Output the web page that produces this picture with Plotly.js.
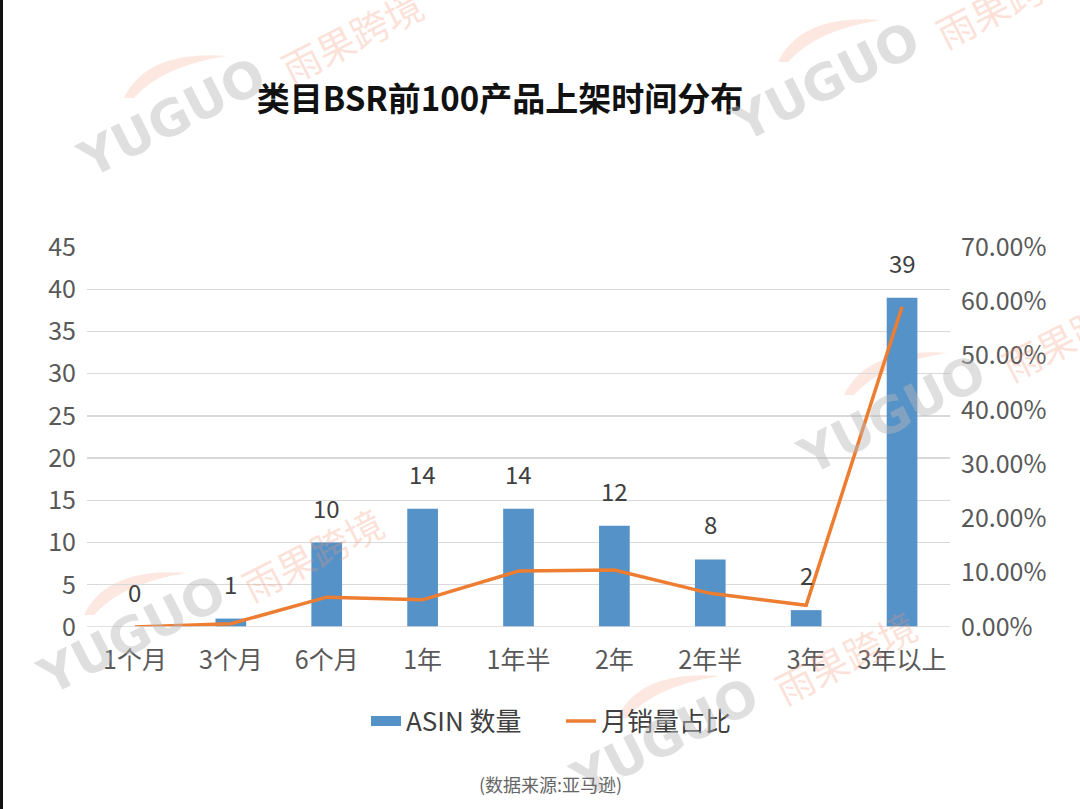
<!DOCTYPE html>
<html><head><meta charset="utf-8">
<script src="https://cdn.plot.ly/plotly-3.0.1.min.js"></script>
<style>html,body{margin:0;padding:0;background:#fff;}#chart{width:1080px;height:809px;}</style>
</head><body><div id="chart"></div>
<script>
const categories = ['1个月','3个月','6个月','1年','1年半','2年','2年半','3年','3年以上'];
const asinCount = [0, 1, 10, 14, 14, 12, 8, 2, 39];
const salesShare = [0.0, 0.006, 0.055, 0.050, 0.103, 0.105, 0.062, 0.040, 0.59];
const leftTicks = [0,5,10,15,20,25,30,35,40,45];
const rightTicks = [0,0.1,0.2,0.3,0.4,0.5,0.6,0.7];

const font = '"Noto Sans CJK SC", "Noto Sans", sans-serif';

// plot area in pixels (for decorative placement only)
const PL = 87, PR = 950, PT = 247, PB = 627;
const px = x => (x - PL) / (PR - PL);
const py = y => (PB - y) / (PB - PT);

const bars = {
  type:'bar', x:categories, y:asinCount, name:'ASIN 数量', showlegend:false,
  marker:{color:'#5592c8'}, yaxis:'y', hoverinfo:'none'
};
const barLegend = {
  type:'scatter', mode:'lines', x:[null], y:[null], name:'ASIN 数量',
  line:{color:'#5592c8', width:17}, yaxis:'y', hoverinfo:'none'
};
const line = {
  type:'scatter', mode:'lines', x:categories, y:salesShare, name:'月销量占比',
  line:{color:'#ed7d31', width:3.5}, yaxis:'y2', hoverinfo:'none'
};

const labels = categories.map((c,i)=>({
  x:c, y:asinCount[i], xref:'x', yref:'y', text:String(asinCount[i]),
  showarrow:false, yanchor:'bottom', yshift:16,
  font:{family:font, size:24, color:'#404040'}
}));

// watermark groups (centre of "YUGUO")
const wmCentres = [[172,118],[826,82],[892,415],[132,635],[665,738]];
const watermarks = [];
const swooshes = [];
wmCentres.forEach(([cx,cy])=>{
  watermarks.push({xref:'paper', yref:'paper', x:px(cx), y:py(cy), xanchor:'center', yanchor:'middle',
    text:'<b>YUGUO</b>', showarrow:false, textangle:-27,
    font:{family:'"DejaVu Sans", sans-serif', size:50, color:'rgba(185,185,185,0.45)'}});
  watermarks.push({xref:'paper', yref:'paper', x:px(cx+180), y:py(cy-82), xanchor:'center', yanchor:'middle',
    text:'雨果跨境', showarrow:false, textangle:-27,
    font:{family:font, size:38, color:'rgba(245,150,120,0.28)'}});
  const p = (dx,dy)=> px(cx+dx)+','+py(cy+dy);
  swooshes.push({type:'path', xref:'paper', yref:'paper', layer:'below',
    path:'M'+p(-48,-20)+' Q'+p(-25,-68)+' '+p(55,-62)+' Q'+p(-10,-52)+' '+p(-38,-20)+' Z',
    fillcolor:'rgba(245,165,135,0.25)', line:{width:0}});
});

const layout = {
  width:1080, height:809,
  paper_bgcolor:'#ffffff', plot_bgcolor:'rgba(0,0,0,0)',
  margin:{l:PL, r:1080-PR, t:PT, b:809-PB},
  title:{text:'<b>类目BSR前100产品上架时间分布</b>', x:0.463, xanchor:'center', y:0.877, yanchor:'middle',
    font:{family:font, size:33, color:'#111111'}},
  font:{family:font, color:'#595959'},
  bargap:0.68,
  showlegend:true,
  legend:{orientation:'h', x:px(561), xanchor:'center', y:py(721), yanchor:'middle',
    font:{family:font, size:26, color:'#404040'}, traceorder:'normal', bgcolor:'rgba(0,0,0,0)',
    entrywidth:150, entrywidthmode:'pixels'},
  xaxis:{type:'category', tickfont:{family:font, size:25, color:'#595959'},
    showgrid:false, showline:false, ticks:'', ticklabelstandoff:16, fixedrange:true},
  yaxis:{range:[0,45], tickvals:leftTicks, tickfont:{family:font, size:25, color:'#595959'},
    gridcolor:'#d9d9d9', gridwidth:1.3, zeroline:false, showline:false, ticks:'', ticklabelstandoff:10},
  yaxis2:{range:[0,0.7], tickvals:rightTicks, tickformat:'.2%', overlaying:'y', side:'right',
    tickfont:{family:font, size:25, color:'#595959'}, showgrid:false, zeroline:false, showline:false,
    ticks:'', ticklabelstandoff:10},
  shapes:[
    {type:'line', xref:'paper', yref:'paper', x0:px(1.5), x1:px(1.5), y0:py(815), y1:py(-5),
      line:{color:'#111', width:3}},
    {type:'line', xref:'paper', yref:'y', x0:0, x1:1, y0:0, y1:0, line:{color:'#d9d9d9', width:1.3}}
  ].concat(swooshes),
  annotations: labels.concat(watermarks).concat([
    {xref:'paper', yref:'paper', x:px(550), y:py(784), xanchor:'center', yanchor:'middle',
      text:'(数据来源:亚马逊)', showarrow:false,
      font:{family:font, size:18, color:'#666666'}}
  ])
};

Plotly.newPlot('chart',[bars,barLegend,line],layout,{displayModeBar:false, staticPlot:true});
</script></body></html>
